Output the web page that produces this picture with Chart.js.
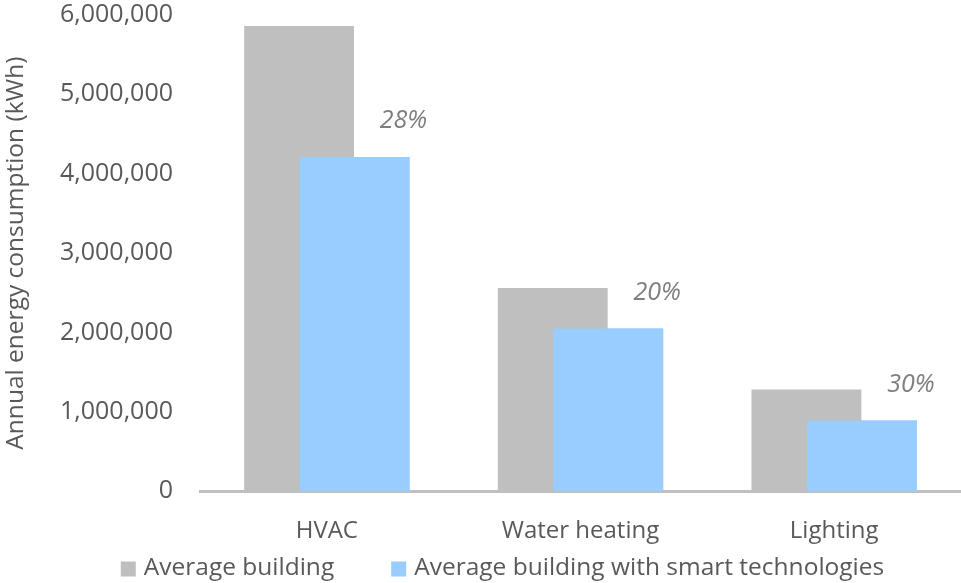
<!DOCTYPE html>
<html lang="en">
<head>
<meta charset="UTF-8" />
<title>Annual energy consumption</title>
<script src="https://cdn.jsdelivr.net/npm/chart.js"></script>
<style>
  html, body { margin: 0; padding: 0; background: #fff; }
  #wrap { width: 961px; height: 583px; position: relative; }
</style>
</head>
<body>
<div id="wrap"><canvas id="chart"></canvas></div>
<script>
const categories = ["HVAC", "Water heating", "Lighting"];
const averageBuilding = [5860000, 2560000, 1280000];
const smartBuilding = [4210000, 2050000, 890000];
const savings = ["28%", "20%", "30%"];
const yMin = 0, yMax = 6000000, yStep = 1000000;

const FONT = '"Open Sans", "DejaVu Sans", sans-serif';
const TEXT = '#595959';

// the smart bars overlap the grey ones and sit in front; then the italic % labels
const savingsLabels = {
  id: 'savingsLabels',
  afterDatasetsDraw(chart) {
    const ctx = chart.ctx;
    const meta = chart.getDatasetMeta(1);
    meta.data.forEach(bar => bar.draw(ctx));
    ctx.save();
    ctx.font = 'italic 25px ' + FONT;
    ctx.fillStyle = '#7f7f7f';
    ctx.textAlign = 'center';
    ctx.textBaseline = 'middle';
    meta.data.forEach((bar, i) => {
      const p = bar.getProps(['x', 'y', 'width'], true);
      ctx.fillText(savings[i], p.x + p.width / 2 - 6, p.y - 36);
    });
    ctx.restore();
  }
};

// Excel-like legend at the bottom
const bottomLegend = {
  id: 'bottomLegend',
  afterDraw(chart) {
    const ctx = chart.ctx;
    ctx.save();
    ctx.font = '24.5px ' + FONT;
    const box = 15, textGap = 8, itemGap = 57;
    const items = chart.data.datasets.map(d => ({
      text: d.label,
      color: d.backgroundColor,
      w: box + textGap + ctx.measureText(d.label).width
    }));
    const total = items.reduce((s, it) => s + it.w, 0) + itemGap * (items.length - 1);
    let x = chart.width / 2 + 22 - total / 2;
    const y = chart.height - 14;
    ctx.textBaseline = 'middle';
    items.forEach(it => {
      ctx.fillStyle = it.color;
      ctx.fillRect(x, y - box / 2, box, box);
      ctx.fillStyle = TEXT;
      ctx.fillText(it.text, x + box + textGap, y - 1);
      x += it.w + itemGap;
    });
    ctx.restore();
  }
};

new Chart(document.getElementById('chart'), {
  type: 'bar',
  data: {
    labels: categories,
    datasets: [
      { label: 'Average building', data: averageBuilding, backgroundColor: '#bfbfbf' },
      { label: 'Average building with smart technologies', data: smartBuilding, backgroundColor: '#99ccff' }
    ]
  },
  options: {
    responsive: true,
    maintainAspectRatio: false,
    animation: false,
    categoryPercentage: 0.4375,
    barPercentage: 1.98,
    layout: { padding: { top: 0, right: 0, bottom: 33, left: 0 } },
    plugins: {
      legend: { display: false },
      tooltip: { enabled: false }
    },
    scales: {
      x: {
        grid: { display: false, drawTicks: true, tickLength: 22 },
        border: { display: true, color: '#bfbfbf', width: 3 },
        ticks: { color: TEXT, font: { family: FONT, size: 24 }, padding: 4 }
      },
      y: {
        min: yMin,
        max: yMax,
        grid: { display: false, drawTicks: true, tickLength: 27 },
        border: { display: false },
        ticks: {
          stepSize: yStep,
          color: TEXT,
          padding: 0,
          font: { family: FONT, size: 25 },
          callback: v => v.toLocaleString('en-US')
        },
        title: {
          display: true,
          text: 'Annual energy consumption (kWh)',
          color: TEXT,
          font: { family: FONT, size: 24.5 },
          padding: { top: 1, bottom: 0 }
        },
        afterFit(scale) { scale.width = 200; }
      }
    }
  },
  plugins: [savingsLabels, bottomLegend]
});
</script>
</body>
</html>
